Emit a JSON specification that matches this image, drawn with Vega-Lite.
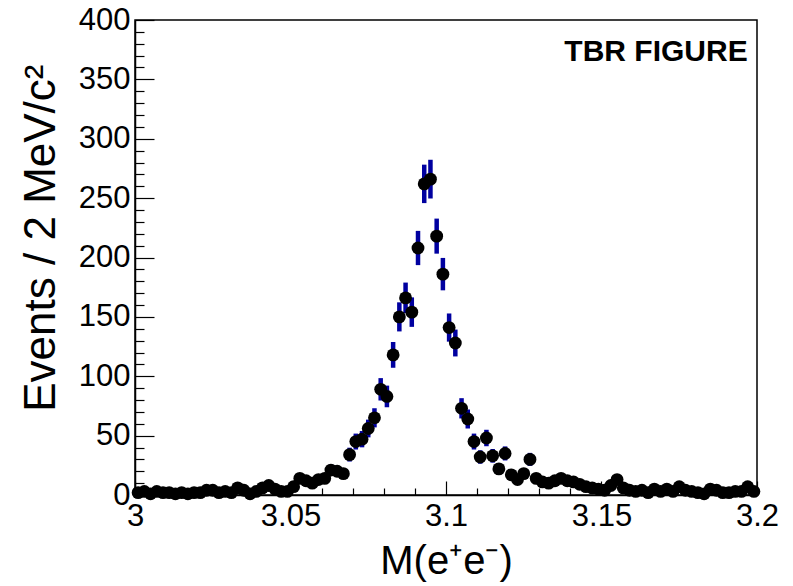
{
  "$schema": "https://vega.github.io/schema/vega-lite/v6.json",
  "width": 622,
  "height": 475,
  "autosize": {"type": "none"},
  "padding": {"left": 135, "top": 20, "right": 36, "bottom": 91},
  "background": "white",
  "config": {
    "view": {"stroke": "black", "strokeWidth": 1.5},
    "font": "Liberation Sans",
    "axis": {"grid": false, "domainColor": "black", "tickColor": "black", "labelColor": "black", "titleColor": "black", "domainWidth": 1.5, "tickWidth": 1.2}
  },
  "data": {"values": [
    {"m": 3.001, "n": 2, "e": 1.41}, {"m": 3.003, "n": 3, "e": 1.73}, {"m": 3.005, "n": 1, "e": 1}, {"m": 3.007, "n": 3, "e": 1.73}, {"m": 3.009, "n": 2, "e": 1.41},
    {"m": 3.011, "n": 2, "e": 1.41}, {"m": 3.013, "n": 1, "e": 1}, {"m": 3.015, "n": 2, "e": 1.41}, {"m": 3.017, "n": 1, "e": 1}, {"m": 3.019, "n": 2, "e": 1.41},
    {"m": 3.021, "n": 2, "e": 1.41}, {"m": 3.023, "n": 4, "e": 2}, {"m": 3.025, "n": 4, "e": 2}, {"m": 3.027, "n": 2, "e": 1.41}, {"m": 3.029, "n": 3, "e": 1.73},
    {"m": 3.031, "n": 2, "e": 1.41}, {"m": 3.033, "n": 6, "e": 2.45}, {"m": 3.035, "n": 4, "e": 2}, {"m": 3.037, "n": 1, "e": 1}, {"m": 3.039, "n": 3, "e": 1.73},
    {"m": 3.041, "n": 6, "e": 2.45}, {"m": 3.043, "n": 8, "e": 2.83}, {"m": 3.045, "n": 5, "e": 2.24}, {"m": 3.047, "n": 3, "e": 1.73}, {"m": 3.049, "n": 3, "e": 1.73},
    {"m": 3.051, "n": 7, "e": 2.65}, {"m": 3.053, "n": 14, "e": 3.74}, {"m": 3.055, "n": 12, "e": 3.46}, {"m": 3.057, "n": 10, "e": 3.16}, {"m": 3.059, "n": 13, "e": 3.61},
    {"m": 3.061, "n": 14, "e": 3.74}, {"m": 3.063, "n": 21, "e": 4.58}, {"m": 3.065, "n": 20, "e": 4.47}, {"m": 3.067, "n": 18, "e": 4.24}, {"m": 3.069, "n": 34, "e": 5.83},
    {"m": 3.071, "n": 45, "e": 6.71}, {"m": 3.073, "n": 47, "e": 6.86}, {"m": 3.075, "n": 56, "e": 7.48}, {"m": 3.077, "n": 65, "e": 8.06}, {"m": 3.079, "n": 89, "e": 9.43},
    {"m": 3.081, "n": 83, "e": 9.11}, {"m": 3.083, "n": 118, "e": 10.86}, {"m": 3.085, "n": 150, "e": 12.25}, {"m": 3.087, "n": 166, "e": 12.88}, {"m": 3.089, "n": 154, "e": 12.41},
    {"m": 3.091, "n": 208, "e": 14.42}, {"m": 3.093, "n": 262, "e": 16.19}, {"m": 3.095, "n": 266, "e": 16.31}, {"m": 3.097, "n": 218, "e": 14.76}, {"m": 3.099, "n": 186, "e": 13.64},
    {"m": 3.101, "n": 141, "e": 11.87}, {"m": 3.103, "n": 128, "e": 11.31}, {"m": 3.105, "n": 73, "e": 8.54}, {"m": 3.107, "n": 64, "e": 8}, {"m": 3.109, "n": 45, "e": 6.71},
    {"m": 3.111, "n": 32, "e": 5.66}, {"m": 3.113, "n": 48, "e": 6.93}, {"m": 3.115, "n": 33, "e": 5.74}, {"m": 3.117, "n": 22, "e": 4.69}, {"m": 3.119, "n": 35, "e": 5.92},
    {"m": 3.121, "n": 17, "e": 4.12}, {"m": 3.123, "n": 13, "e": 3.61}, {"m": 3.125, "n": 18, "e": 4.24}, {"m": 3.127, "n": 30, "e": 5.48}, {"m": 3.129, "n": 14, "e": 3.74},
    {"m": 3.131, "n": 11, "e": 3.32}, {"m": 3.133, "n": 10, "e": 3.16}, {"m": 3.135, "n": 12, "e": 3.46}, {"m": 3.137, "n": 14, "e": 3.74}, {"m": 3.139, "n": 12, "e": 3.46},
    {"m": 3.141, "n": 11, "e": 3.32}, {"m": 3.143, "n": 9, "e": 3}, {"m": 3.145, "n": 7, "e": 2.65}, {"m": 3.147, "n": 6, "e": 2.45}, {"m": 3.149, "n": 5, "e": 2.24},
    {"m": 3.151, "n": 4, "e": 2}, {"m": 3.153, "n": 8, "e": 2.83}, {"m": 3.155, "n": 13, "e": 3.61}, {"m": 3.157, "n": 6, "e": 2.45}, {"m": 3.159, "n": 4, "e": 2},
    {"m": 3.161, "n": 3, "e": 1.73}, {"m": 3.163, "n": 4, "e": 2}, {"m": 3.165, "n": 2, "e": 1.41}, {"m": 3.167, "n": 5, "e": 2.24}, {"m": 3.169, "n": 3, "e": 1.73},
    {"m": 3.171, "n": 5, "e": 2.24}, {"m": 3.173, "n": 3, "e": 1.73}, {"m": 3.175, "n": 7, "e": 2.65}, {"m": 3.177, "n": 4, "e": 2}, {"m": 3.179, "n": 3, "e": 1.73},
    {"m": 3.181, "n": 2, "e": 1.41}, {"m": 3.183, "n": 1, "e": 1}, {"m": 3.185, "n": 5, "e": 2.24}, {"m": 3.187, "n": 4, "e": 2}, {"m": 3.189, "n": 2, "e": 1.41},
    {"m": 3.191, "n": 2, "e": 1.41}, {"m": 3.193, "n": 3, "e": 1.73}, {"m": 3.195, "n": 3, "e": 1.73}, {"m": 3.197, "n": 7, "e": 2.65}, {"m": 3.199, "n": 3, "e": 1.73}
  ]},
  "layer": [
    {
      "mark": {"type": "point", "opacity": 0},
      "encoding": {
        "x": {"field": "m", "type": "quantitative", "scale": {"domain": [3, 3.2], "nice": false, "zero": false},
              "axis": {"orient": "bottom", "values": [3.01, 3.02, 3.03, 3.04, 3.06, 3.07, 3.08, 3.09, 3.11, 3.12, 3.13, 3.14, 3.16, 3.17, 3.18, 3.19], "labels": false, "domain": false, "tickSize": -7, "title": null}},
        "y": {"field": "n", "type": "quantitative", "scale": {"domain": [0, 400], "nice": false},
              "axis": {"orient": "left", "values": [10, 20, 30, 40, 60, 70, 80, 90, 110, 120, 130, 140, 160, 170, 180, 190, 210, 220, 230, 240, 260, 270, 280, 290, 310, 320, 330, 340, 360, 370, 380, 390], "labels": false, "domain": false, "tickSize": -9, "title": null}}
      }
    },
    {
      "mark": {"type": "errorbar", "ticks": false, "thickness": 4.5, "color": "#0000a0"},
      "encoding": {
        "x": {"field": "m", "type": "quantitative", "axis": null},
        "y": {"field": "n", "type": "quantitative", "axis": null},
        "yError": {"field": "e"}
      }
    },
    {
      "mark": {"type": "circle", "size": 165, "color": "black", "opacity": 1},
      "encoding": {
        "x": {"field": "m", "type": "quantitative",
              "axis": {"orient": "bottom", "values": [3, 3.05, 3.1, 3.15, 3.2], "format": "~g", "tickSize": -14, "labelPadding": 20, "labelFontSize": 31, "labelFlush": false,
                       "title": "M(e⁺e⁻)", "titleFontSize": 40, "titleFontWeight": "normal", "titleBaseline": "alphabetic", "titleY": 78}},
        "y": {"field": "n", "type": "quantitative",
              "axis": {"orient": "left", "values": [0, 50, 100, 150, 200, 250, 300, 350, 400], "tickSize": -19, "labelPadding": 24, "labelFontSize": 31, "labelFlush": false,
                       "title": "Events / 2 MeV/c²", "titleFontSize": 44, "titleFontWeight": "normal", "titleAnchor": "end", "titleAlign": "right", "titleBaseline": "middle", "titleAngle": -90, "titleX": -94, "titleY": 44}}
      }
    },
    {
      "data": {"values": [{"label": "TBR FIGURE"}]},
      "mark": {"type": "text", "align": "right", "baseline": "middle", "fontSize": 30, "fontWeight": "bold", "font": "Liberation Sans", "color": "black"},
      "encoding": {
        "x": {"datum": 3.197, "type": "quantitative", "axis": null},
        "y": {"datum": 373, "type": "quantitative", "axis": null},
        "text": {"field": "label"}
      }
    }
  ],
  "resolve": {"axis": {"x": "independent", "y": "independent"}}
}
